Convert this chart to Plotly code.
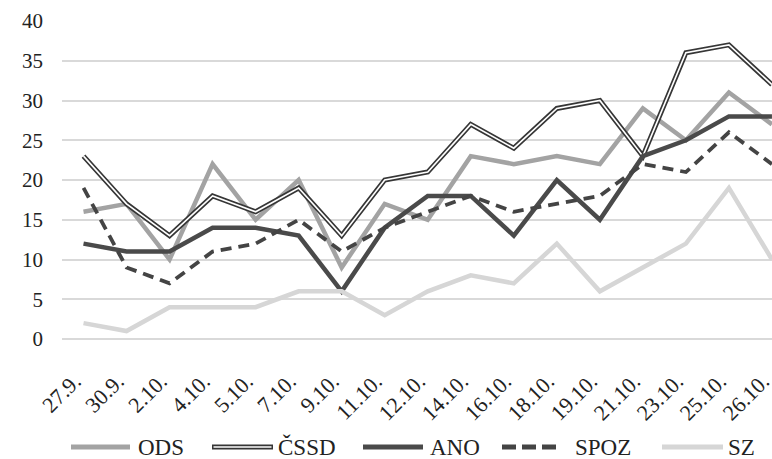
import plotly.graph_objects as go

categories = ["27.9.", "30.9.", "2.10.", "4.10.", "5.10.", "7.10.", "9.10.", "11.10.", "12.10.",
              "14.10.", "16.10.", "18.10.", "19.10.", "21.10.", "23.10.", "25.10.", "26.10."]
ods  = [16, 17, 10, 22, 15, 20, 9, 17, 15, 23, 22, 23, 22, 29, 25, 31, 27]
cssd = [23, 17, 13, 18, 16, 19, 13, 20, 21, 27, 24, 29, 30, 23, 36, 37, 32]
ano  = [12, 11, 11, 14, 14, 13, 6, 14, 18, 18, 13, 20, 15, 23, 25, 28, 28]
spoz = [19, 9, 7, 11, 12, 15, 11, 14, 16, 18, 16, 17, 18, 22, 21, 26, 22]
sz   = [2, 1, 4, 4, 4, 6, 6, 3, 6, 8, 7, 12, 6, 9, 12, 19, 10]
y_ticks = [0, 5, 10, 15, 20, 25, 30, 35, 40]

FONT = "Liberation Serif, serif"
W, H = 772, 459
L, R, T, B = 62, 0, 21, 120

fig = go.Figure()
x = list(range(len(categories)))
fig.add_trace(go.Scatter(x=x, y=ods, mode="lines", line=dict(color="#a3a3a3", width=4.5), showlegend=False))
fig.add_trace(go.Scatter(x=x, y=cssd, mode="lines", line=dict(color="#363636", width=5), showlegend=False))
fig.add_trace(go.Scatter(x=x, y=cssd, mode="lines", line=dict(color="#ffffff", width=1.6), showlegend=False))
fig.add_trace(go.Scatter(x=x, y=ano, mode="lines", line=dict(color="#4a4a4a", width=4.5), showlegend=False))
fig.add_trace(go.Scatter(x=x, y=spoz, mode="lines", line=dict(color="#444444", width=3.8, dash="11px,7px"), showlegend=False))
fig.add_trace(go.Scatter(x=x, y=sz, mode="lines", line=dict(color="#d6d6d6", width=4.5), showlegend=False))

# manual legend (pixel positions -> paper coords)
pw, ph = W - L - R, H - T - B
def px(v): return (v - L) / pw
def py(v): return (H - B - v) / ph

legend_items = [
    ("ODS", 71, 130, 136, dict(color="#a3a3a3", width=5)),
    ("ČSSD", 212, 273, 276, None),
    ("ANO", 363, 423, 428, dict(color="#4a4a4a", width=5)),
    ("SPOZ", 502, 562, 573, dict(color="#444444", width=5, dash="14px,6px")),
    ("SZ", 662, 723, 726, dict(color="#d6d6d6", width=5)),
]
ly = 447
shapes = []
annotations = []
for name, x0, x1, tx, ln in legend_items:
    if ln is None:
        shapes.append(dict(type="line", xref="paper", yref="paper", x0=px(x0), x1=px(x1), y0=py(ly), y1=py(ly),
                           line=dict(color="#363636", width=5)))
        shapes.append(dict(type="line", xref="paper", yref="paper", x0=px(x0 + 1.5), x1=px(x1 - 1.5), y0=py(ly), y1=py(ly),
                           line=dict(color="#ffffff", width=1.6)))
    else:
        shapes.append(dict(type="line", xref="paper", yref="paper", x0=px(x0), x1=px(x1), y0=py(ly), y1=py(ly), line=ln))
    annotations.append(dict(text=name, xref="paper", yref="paper", x=px(tx), y=py(ly), xanchor="left", yanchor="middle",
                            showarrow=False, font=dict(family=FONT, size=23, color="#222222")))

fig.update_layout(
    width=W, height=H,
    margin=dict(l=L, r=R, t=T, b=B, autoexpand=False),
    plot_bgcolor="white", paper_bgcolor="white",
    shapes=shapes, annotations=annotations,
    showlegend=False,
)
fig.update_xaxes(
    range=[-0.5, len(categories) - 1 + 0.001], tickmode="array", tickvals=x, ticktext=categories,
    tickangle=-45, showgrid=False, zeroline=False, showline=False, ticks="", automargin=False,
    ticklabeloverflow="allow", ticklabelshift=-9,
    tickfont=dict(family=FONT, size=22, color="#222222"), ticklabelstandoff=24,
)
fig.update_yaxes(
    range=[0, 40], tickmode="array", tickvals=y_ticks, showgrid=True, gridcolor="#d9d9d9", gridwidth=1.5,
    zeroline=True, zerolinecolor="#d9d9d9", zerolinewidth=1.5, showline=False, ticks="", automargin=False,
    tickfont=dict(family=FONT, size=21, color="#222222"), ticklabelstandoff=18,
)
fig.write_html("out.html", config={"displayModeBar": False},
               post_script="document.body.style.margin='0';document.body.style.overflow='hidden';")
